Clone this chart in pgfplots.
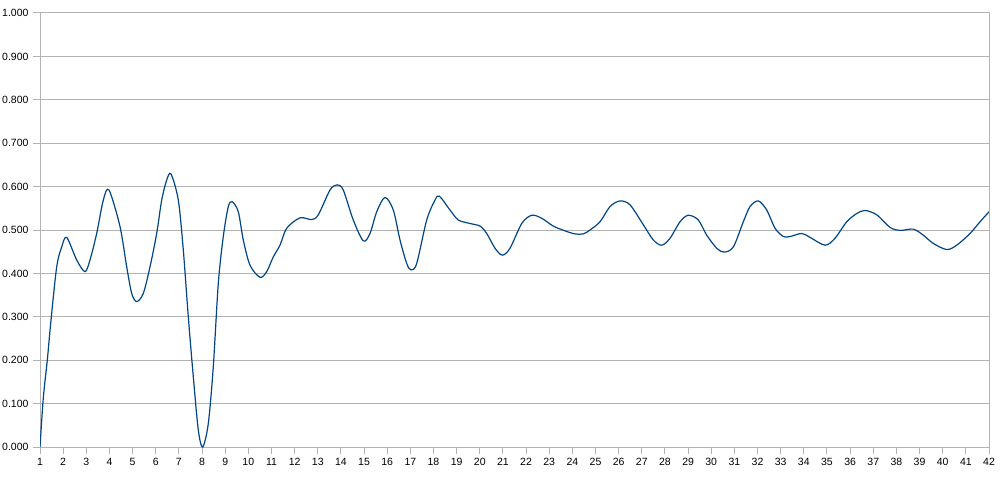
\documentclass[border=0pt]{standalone}
\usepackage{pgfplots}
\pgfplotsset{compat=1.18}
\usepackage{fontspec}
\setmainfont{Liberation Sans}
\definecolor{gridgray}{RGB}{179,179,179}
\definecolor{lineblue}{RGB}{0,69,134}
\begin{document}
\begin{tikzpicture}
\path[use as bounding box] (0,0) rectangle (1003pt,485pt);
\begin{axis}[
  at={(40pt,38pt)}, anchor=south west,
  scale only axis, width=949pt, height=434pt,
  xmin=1, xmax=42, ymin=0, ymax=1,
  xtick={1,...,42}, ytick={0,0.1,...,1.0},
  xtick pos=left, ytick pos=left, tick align=outside,
  major tick length=7pt,
  tick style={gridgray, line width=1pt},
  axis line style={gridgray, line width=1pt},
  ymajorgrids, grid style={gridgray, line width=1pt},
  yticklabel style={/pgf/number format/fixed, /pgf/number format/fixed zerofill, /pgf/number format/precision=3, xshift=-1pt},
  /pgf/number format/assume math mode=true,
  ticklabel style={font=\fontsize{10.5}{12}\selectfont, text=black},
  xticklabel style={yshift=-1pt},
  clip=true,
]
\addplot[lineblue, line width=1.2pt, smooth, tension=0.5] coordinates {
(1.000,0.000) (1.143,0.113) (1.315,0.200) (1.462,0.285) (1.721,0.415) (1.937,0.461)
(2.153,0.483) (2.585,0.431) (2.944,0.404) (3.160,0.431) (3.449,0.492) (3.735,0.569)
(3.981,0.592) (4.456,0.508) (4.746,0.415) (4.962,0.354) (5.177,0.335) (5.463,0.354)
(5.752,0.415) (6.041,0.492) (6.258,0.569) (6.474,0.615) (6.659,0.629) (6.975,0.569)
(7.191,0.454) (7.407,0.300) (7.623,0.162) (7.839,0.039) (8.029,0.000) (8.271,0.054)
(8.487,0.185) (8.703,0.377) (8.919,0.485) (9.135,0.554) (9.308,0.565) (9.567,0.542)
(9.783,0.477) (10.072,0.419) (10.504,0.391) (10.794,0.404) (11.079,0.438) (11.368,0.465)
(11.658,0.504) (12.232,0.528) (12.738,0.524) (13.023,0.535) (13.529,0.592) (13.844,0.604)
(14.103,0.592) (14.535,0.523) (14.968,0.475) (15.257,0.492) (15.547,0.542) (15.905,0.575)
(16.264,0.546) (16.553,0.477) (16.843,0.423) (17.029,0.408) (17.275,0.423) (17.707,0.523)
(18.066,0.569) (18.252,0.578) (18.714,0.546) (19.073,0.523) (19.578,0.515) (20.010,0.509)
(20.300,0.492) (20.658,0.458) (20.974,0.442) (21.306,0.458) (21.812,0.515) (22.244,0.534)
(22.676,0.527) (23.177,0.509) (23.683,0.498) (24.115,0.491) (24.474,0.491) (24.763,0.500)
(25.195,0.519) (25.627,0.554) (26.059,0.567) (26.491,0.558) (27.066,0.512) (27.498,0.477)
(27.861,0.465) (28.220,0.481) (28.652,0.519) (29.010,0.534) (29.442,0.523) (29.805,0.488)
(30.237,0.458) (30.553,0.449) (30.954,0.461) (31.386,0.519) (31.675,0.554) (32.034,0.567)
(32.397,0.546) (32.756,0.504) (33.115,0.485) (33.404,0.485) (33.910,0.492) (34.268,0.483)
(34.916,0.465) (35.348,0.481) (35.854,0.519) (36.286,0.538) (36.644,0.545) (37.150,0.535)
(37.724,0.506) (38.156,0.499) (38.731,0.502) (39.163,0.488) (39.595,0.469) (40.174,0.455)
(40.606,0.465) (41.180,0.492) (41.612,0.519) (42.000,0.542)
};
\end{axis}
\end{tikzpicture}
\end{document}
